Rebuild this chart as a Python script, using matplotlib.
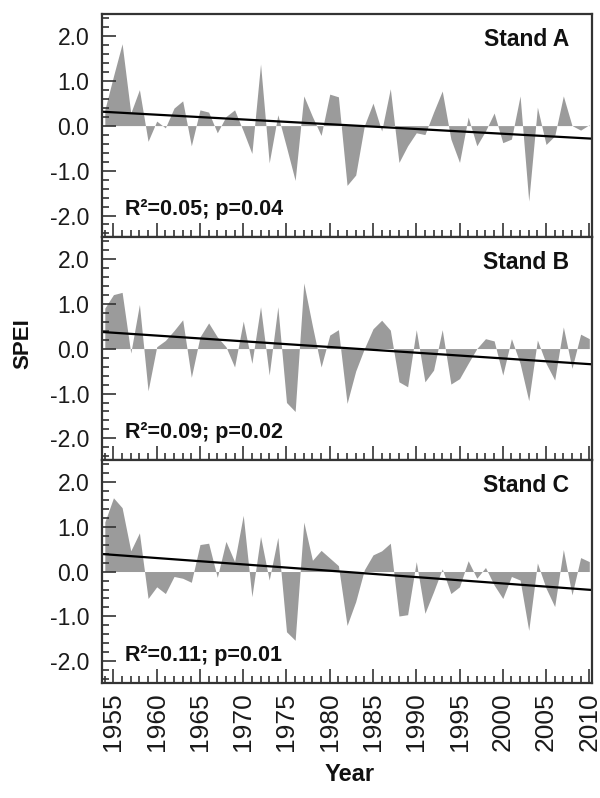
import matplotlib
matplotlib.use("Agg")
import matplotlib.pyplot as plt
from matplotlib.ticker import MultipleLocator
import numpy as np

plt.rcParams['font.family'] = ['Liberation Sans', 'DejaVu Sans']

years = np.arange(1954, 2011)

spei_a = [0.35, 1.1, 1.82, 0.28, 0.8, -0.35, 0.1, -0.05, 0.39, 0.55,
          -0.45, 0.35, 0.3, -0.16, 0.2, 0.35, -0.12, -0.62, 1.37, -0.83,
          0.24, -0.48, -1.22, 0.66, 0.2, -0.22, 0.7, 0.64, -1.33, -1.1,
          0.0, 0.5, -0.12, 0.82, -0.82, -0.45, -0.16, -0.2, 0.3, 0.77,
          -0.3, -0.82, 0.19, -0.45, -0.12, 0.28, -0.38, -0.3, 0.66, -1.68,
          0.41, -0.42, -0.23, 0.66, 0.0, -0.1, 0.02]

spei_b = [0.9, 1.2, 1.25, -0.1, 0.98, -0.94, 0.04, 0.18, 0.4, 0.64,
          -0.64, 0.26, 0.57, 0.26, 0.04, -0.41, 0.61, -0.33, 0.93, -0.59,
          0.93, -1.2, -1.4, 1.46, 0.5, -0.41, 0.3, 0.42, -1.22, -0.5,
          0.0, 0.44, 0.63, 0.41, -0.74, -0.85, 0.42, -0.74, -0.48, 0.42,
          -0.79, -0.67, -0.33, 0.0, 0.22, 0.17, -0.59, 0.22, -0.33, -1.16,
          0.19, -0.33, -0.7, 0.48, -0.44, 0.32, 0.22]

spei_c = [1.1, 1.64, 1.42, 0.46, 0.86, -0.6, -0.34, -0.49, -0.11, -0.15,
          -0.24, 0.6, 0.63, -0.13, 0.67, 0.22, 1.25, -0.56, 0.78, -0.19,
          0.76, -1.34, -1.53, 1.1, 0.25, 0.47, 0.3, 0.13, -1.2, -0.67,
          0.04, 0.37, 0.46, 0.63, -0.99, -0.96, 0.22, -0.93, -0.45, 0.06,
          -0.49, -0.34, 0.24, -0.15, 0.09, -0.3, -0.6, -0.11, -0.19, -1.31,
          0.19, -0.37, -0.78, 0.49, -0.52, 0.31, 0.22]

stands = ["Stand A", "Stand B", "Stand C"]
stats = ["R\u00b2=0.05; p=0.04", "R\u00b2=0.09; p=0.02", "R\u00b2=0.11; p=0.01"]
# linear trend values read at 1954 and 2010
trend_start = [0.306, 0.365, 0.385]
trend_end = [-0.287, -0.346, -0.406]

x_ticks = list(range(1955, 2011, 5))
y_ticks = [-2.0, -1.0, 0.0, 1.0, 2.0]

series = [spei_a, spei_b, spei_c]
xlim = (1953.64, 2010.28)
ylim = (-2.48, 2.48)
edge = '#333333'

fig = plt.figure(figsize=(6, 7.98), dpi=100)
left, width = 0.1695, 0.8167
height = 0.2794
bottoms = [0.1441 + 2*height, 0.1441 + height, 0.1441]

for i in range(3):
    ax = fig.add_axes([left, bottoms[i], width, height])
    ax.fill_between(years, series[i], 0, color='#9b9b9b', linewidth=0)
    slope = (trend_end[i] - trend_start[i]) / (2010 - 1954)
    tx = np.array(xlim)
    ax.plot(tx, trend_start[i] + slope*(tx - 1954), color='black', lw=1.6)

    ax.set_xlim(xlim)
    ax.set_ylim(ylim)
    ax.set_xticks(x_ticks)
    ax.xaxis.set_minor_locator(MultipleLocator(1))
    ax.set_yticks(y_ticks)
    ax.yaxis.set_minor_locator(MultipleLocator(0.2))
    ax.set_yticklabels(["%.1f" % v for v in y_ticks], fontsize=16.5, color='#1a1a1a')
    ax.tick_params(which='both', direction='in', top=False, right=False,
                   width=1.2, color=edge)
    ax.tick_params(which='major', length=10)
    ax.tick_params(which='minor', length=5)
    ax.tick_params(axis='y', pad=9)
    if i == 2:
        ax.set_xticklabels([str(y) for y in x_ticks], rotation=90,
                           fontsize=19, color='#1a1a1a')
        ax.tick_params(axis='x', pad=7)
    else:
        ax.set_xticklabels([])
    for sp in ax.spines.values():
        sp.set_color(edge)
        sp.set_linewidth(1.6)

    ax.text(0.954, 0.885, stands[i], transform=ax.transAxes, ha='right',
            va='center', fontsize=16.5, fontweight='bold', color='#111111')
    ax.text(0.048, 0.125, stats[i], transform=ax.transAxes, ha='left',
            va='center', fontsize=15.5, fontweight='bold', color='#111111')

fig.text(0.038, 0.570, "SPEI", rotation=90, ha='center', va='center',
         fontsize=16, fontweight='bold', color='#111111')
fig.text(0.583, 0.029, "Year", ha='center', va='center',
         fontsize=17, fontweight='bold', color='#111111')

fig.savefig("out.png", dpi=100)
